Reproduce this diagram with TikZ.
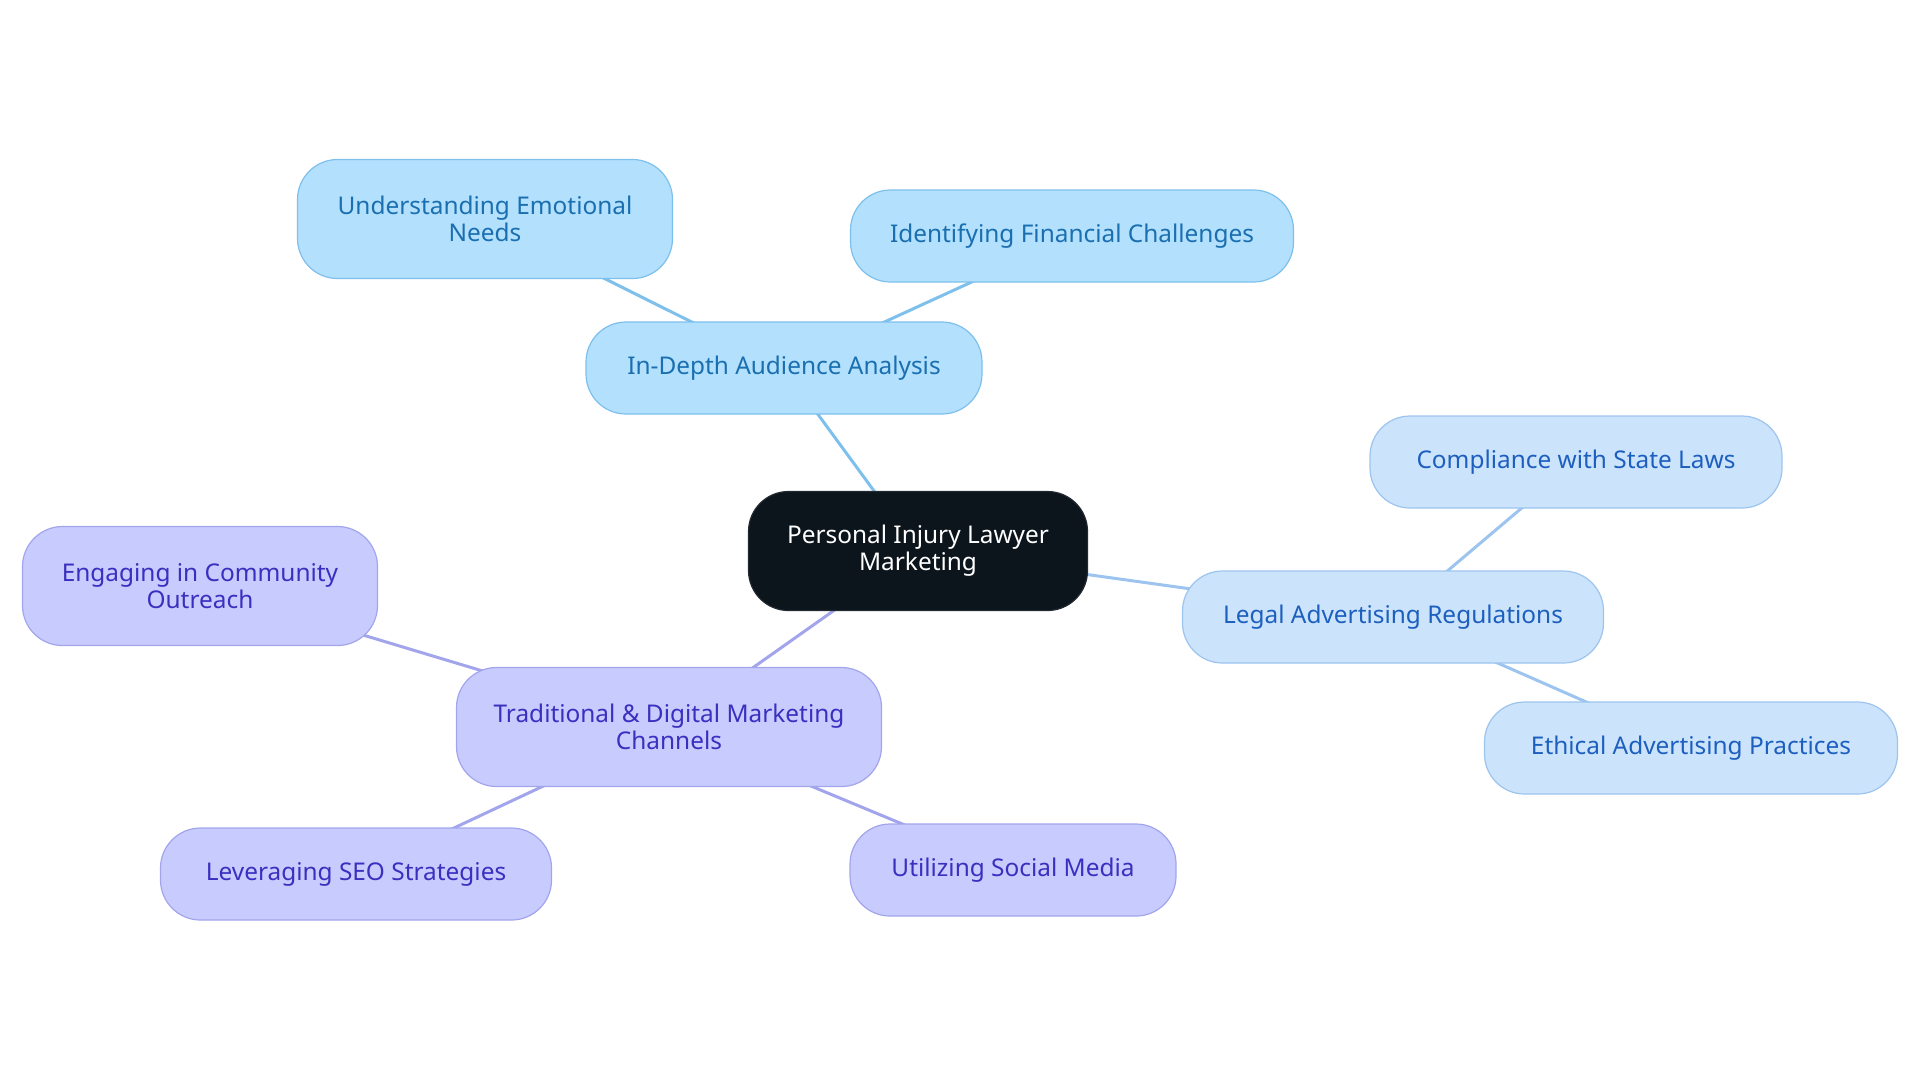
\documentclass[tikz,border=0pt]{standalone}
\usepackage{fontspec}
\setmainfont{Noto Sans}
\usetikzlibrary{backgrounds}

\definecolor{rootfill}{HTML}{0C141C}
\definecolor{audfill}{HTML}{B3E0FD}
\definecolor{audline}{HTML}{7EC0EC}
\definecolor{audtext}{HTML}{1A6FB0}
\definecolor{legfill}{HTML}{CCE4FB}
\definecolor{legline}{HTML}{9CC4EE}
\definecolor{legtext}{HTML}{1D5FBF}
\definecolor{chanfill}{HTML}{C8CBFD}
\definecolor{chanline}{HTML}{A2A5EC}
\definecolor{chantext}{HTML}{3A2FBF}

\tikzset{
  topic/.style={rounded corners=20pt, align=center, inner sep=0pt,
    font=\fontsize{12.2}{13.5}\selectfont, line width=0.6pt},
  root/.style={topic, fill=rootfill, draw=rootfill!80!gray, text=white},
  aud/.style={topic, fill=audfill, draw=audline, text=audtext},
  leg/.style={topic, fill=legfill, draw=legline, text=legtext},
  chan/.style={topic, fill=chanfill, draw=chanline, text=chantext},
  audlink/.style={draw=audline, line width=1.5pt},
  leglink/.style={draw=legline, line width=1.5pt},
  chanlink/.style={draw=chanline, line width=1.5pt}
}

\begin{document}
\begin{tikzpicture}[x=0.5pt, y=-0.5pt]
  \useasboundingbox (0,0) rectangle (1920,1083);

  % centre
  \node[root, minimum width=169.5pt, minimum height=59.5pt] (Marketing) at (918,551) {Personal Injury Lawyer\\Marketing};

  % audience branch
  \node[aud, minimum width=198pt, minimum height=46pt] (Audience) at (784,368) {In-Depth Audience Analysis};
  \node[aud, minimum width=187.5pt, minimum height=59.5pt] (Emotional) at (485,219) {Understanding Emotional\\Needs};
  \node[aud, minimum width=221.5pt, minimum height=46pt] (Financial) at (1072,236) {Identifying Financial Challenges};

  % legal branch
  \node[leg, minimum width=210.5pt, minimum height=46pt] (Legal) at (1393,617) {Legal Advertising Regulations};
  \node[leg, minimum width=206pt, minimum height=46pt] (Compliance) at (1576,462) {Compliance with State Laws};
  \node[leg, minimum width=206.5pt, minimum height=46pt] (Ethical) at (1691,748) {Ethical Advertising Practices};

  % channels branch
  \node[chan, minimum width=212.5pt, minimum height=59.5pt] (Channels) at (669,727) {Traditional \& Digital Marketing\\Channels};
  \node[chan, minimum width=177.5pt, minimum height=59.5pt] (Outreach) at (200,586) {Engaging in Community\\Outreach};
  \node[chan, minimum width=195.5pt, minimum height=46pt] (SEO) at (356,874) {Leveraging SEO Strategies};
  \node[chan, minimum width=163pt, minimum height=46pt] (Social) at (1013,870) {Utilizing Social Media};

  \begin{scope}[on background layer]
    \draw[audlink] (Marketing.center) -- (Audience.center);
    \draw[audlink] (Audience.center) -- (Emotional.center);
    \draw[audlink] (Audience.center) -- (Financial.center);
    \draw[leglink] (Marketing.center) -- (Legal.center);
    \draw[leglink] (Legal.center) -- (Compliance.center);
    \draw[leglink] (Legal.center) -- (Ethical.center);
    \draw[chanlink] (Marketing.center) -- (Channels.center);
    \draw[chanlink] (Channels.center) -- (Outreach.center);
    \draw[chanlink] (Channels.center) -- (SEO.center);
    \draw[chanlink] (Channels.center) -- (Social.center);
  \end{scope}
\end{tikzpicture}
\end{document}
